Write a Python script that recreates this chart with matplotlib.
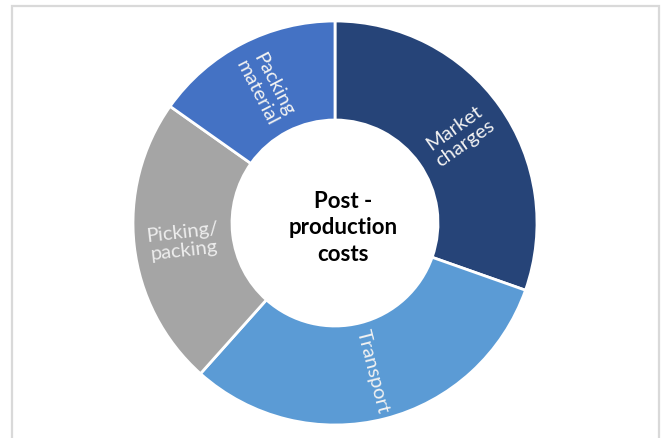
import numpy as np
import matplotlib
matplotlib.use("Agg")
import matplotlib.pyplot as plt

# Cost shares, read clockwise from 12 o'clock
categories = ["Market\ncharges", "Transport", "Picking/\npacking", "Packing\nmaterial"]
shares = [30.4, 31.2, 23.2, 15.2]
colors = ["#264478", "#5B9BD5", "#A5A5A5", "#4472C4"]
label_colors = ["#F2F2F2", "#F2F2F2", "#EDEDED", "#F2F2F2"]
center_text = "Post -\nproduction\ncosts"

W, H = 662, 439
fig = plt.figure(figsize=(W / 100, H / 100), dpi=100)
ax = fig.add_axes([0, 0, 1, 1])

cx, cy = 335, H - 224
r_out, r_in = 202, 103
width = r_out - r_in

wedges, _ = ax.pie(
    shares,
    colors=colors,
    startangle=90,
    counterclock=False,
    radius=r_out,
    center=(cx, cy),
    wedgeprops=dict(width=width, edgecolor="white", linewidth=2),
    frame=True,
)
ax.set_xlim(0, W)
ax.set_ylim(0, H)
ax.set_aspect("equal")
ax.axis("off")

# radial labels in the middle of each ring segment
r_lab = r_in + width / 2
for w, lab, lc in zip(wedges, categories, label_colors):
    mid = (w.theta1 + w.theta2) / 2
    x = cx + r_lab * np.cos(np.radians(mid))
    y = cy + r_lab * np.sin(np.radians(mid))
    rot = mid % 360
    if 90 < rot < 270:
        rot -= 180
    elif rot >= 270:
        rot -= 360
    ax.text(x, y, lab, ha="center", va="center", rotation=rot,
            rotation_mode="anchor", color=lc, fontsize=14.5,
            family="Lato", linespacing=1.1)

ax.text(cx + 8, cy - 4, center_text, ha="center", va="center",
        fontsize=16, fontweight="bold", family="Lato", color="black",
        linespacing=1.35)

# light grey frame (no bottom edge visible)
fc = "#D9D9D9"
ax.plot([12, 12, 659, 659], [0, H - 7, H - 7, 0], color=fc, lw=1.6,
        solid_joinstyle="miter", clip_on=False)

fig.savefig("out.png", dpi=100)
